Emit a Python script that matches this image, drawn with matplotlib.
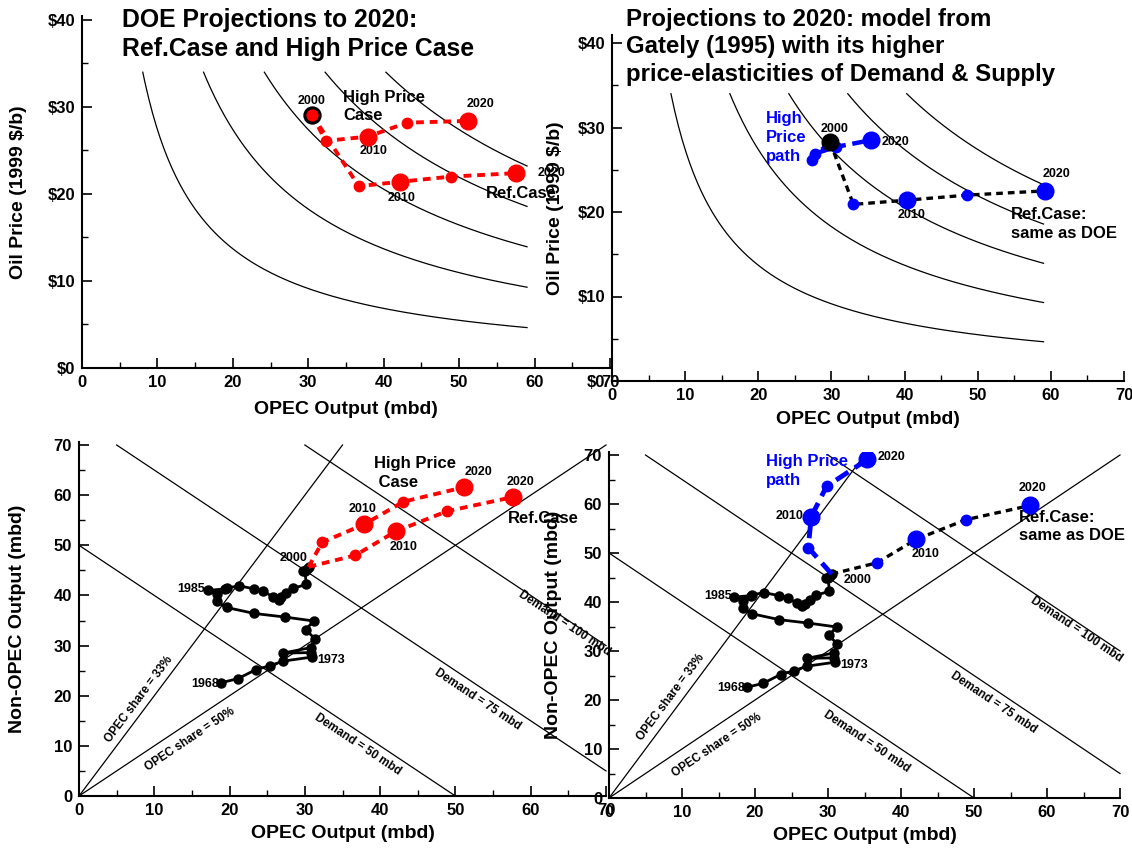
import matplotlib
matplotlib.use('Agg')
import matplotlib.pyplot as plt
import numpy as np

plt.rcParams['font.family'] = ['Liberation Sans', 'DejaVu Sans']
plt.rcParams['font.weight'] = 'bold'
plt.rcParams['axes.labelweight'] = 'bold'

# ---------------- data ----------------
hist_years = list(range(1968, 2001))
hist_opec = [18.9, 21.1, 23.5, 25.4, 27.1, 30.9, 30.8, 27.1, 30.8, 31.3,
             30.1, 31.2, 27.3, 23.3, 19.6, 18.3, 18.3, 17.1, 19.4, 19.6,
             21.3, 23.3, 24.5, 25.8, 26.5, 26.8, 27.5, 28.4, 30.2, 30.0,
             29.7, 30.3, 30.5]
hist_nonopec = [22.6, 23.4, 25.2, 26.0, 26.9, 27.7, 28.6, 28.5, 29.6, 31.4,
                33.2, 34.9, 35.7, 36.4, 37.6, 38.8, 40.3, 41.0, 41.3, 41.5,
                41.9, 41.3, 40.8, 39.7, 39.1, 39.6, 40.4, 41.4, 42.2, 44.8,
                44.9, 45.3, 45.7]

proj_years = [2000, 2005, 2010, 2015, 2020]
# DOE projections
doe_ref_opec = [30.5, 36.7, 42.1, 48.9, 57.6]
doe_ref_nonopec = [45.7, 48.0, 52.8, 56.8, 59.6]
doe_ref_price = [29.1, 20.9, 21.4, 22.0, 22.4]
doe_hp_opec = [30.5, 32.3, 37.9, 43.1, 51.2]
doe_hp_nonopec = [45.7, 50.6, 54.2, 58.7, 61.6]
doe_hp_price = [29.1, 26.1, 26.6, 28.2, 28.4]
# Gately (1995) model
gm_ref_opec_top = [29.8, 33.0, 40.3, 48.6, 59.2]
gm_ref_price = [28.3, 20.9, 21.4, 22.0, 22.5]
gm_hp_opec_top = [29.8, 27.3, 27.7, 30.6, 35.4]
gm_hp_price = [28.3, 26.2, 26.9, 27.7, 28.5]
gm_ref_opec = [30.5, 36.7, 42.1, 48.9, 57.7]
gm_ref_nonopec = [45.7, 48.0, 52.8, 56.8, 59.7]
gm_hp_opec = [30.5, 27.3, 27.7, 29.8, 35.4]
gm_hp_nonopec = [45.7, 51.1, 57.4, 63.6, 69.1]

revenue_levels = [100, 200, 300, 400, 500]   # $bn per year
demand_levels = [50, 75, 100]                # mbd
share_levels = [1/3, 1/2]
share_names = ['33%', '50%']

price_ticks = [0, 10, 20, 30, 40]
price_labels = ['$0', '$10', '$20', '$30', '$40']
qty_ticks = [0, 10, 20, 30, 40, 50, 60, 70]

# ---------------- layout ----------------
W, H = 1132, 850
fig = plt.figure(figsize=(W / 100, H / 100), dpi=100)
RED = '#ff0000'
BLUE = '#0000ff'


def make_ax(xpx0, xpx70, ypx0, ypxv, v, ytop):
    sx = (xpx70 - xpx0) / 70.0
    sy = (ypx0 - ypxv) / v
    left = xpx0 / W
    width = 70 * sx / W
    bottom = 1 - ypx0 / H
    height = ytop * sy / H
    ax = fig.add_axes([left, bottom, width, height])
    ax.set_facecolor('none')
    ax.set_xlim(0, 70)
    ax.set_ylim(0, ytop)
    for s in ['top', 'right']:
        ax.spines[s].set_visible(False)
    for s in ['left', 'bottom']:
        ax.spines[s].set_linewidth(1.5)
    ax.set_xticks(qty_ticks)
    ax.set_xticks(np.arange(5, 70, 10), minor=True)
    ax.tick_params(which='major', direction='in', length=7, width=1.2,
                   labelsize=12, pad=5)
    ax.tick_params(which='minor', direction='in', length=4.5, width=1.0)
    ax.set_xlabel('OPEC Output (mbd)', fontsize=14, fontweight='bold')
    return ax, width * W, height * H


def finish_labels(ax, wpx, hpx, xlab_off, ylab_x):
    ax.xaxis.set_label_coords(0.5, -xlab_off / hpx)
    ax.xaxis.label.set_va('center')
    ax.yaxis.set_label_coords(ylab_x / wpx, 0.5)
    ax.yaxis.label.set_va('center')
    for lab in ax.get_xticklabels() + ax.get_yticklabels():
        lab.set_fontweight('bold')


def price_panel(ax):
    ax.set_yticks(price_ticks)
    ax.set_yticklabels(price_labels)
    ax.set_yticks([5, 15, 25, 35], minor=True)
    ax.set_ylabel('Oil Price (1999 $/b)', fontsize=14, fontweight='bold')
    for r in revenue_levels:
        k = r * 1000 / 365.0
        q = np.linspace(k / 34.0, 59, 200)
        ax.plot(q, k / q, color='black', lw=0.9)


def qty_panel(ax):
    ax.set_yticks(qty_ticks)
    ax.set_yticks(np.arange(5, 70, 10), minor=True)
    ax.set_ylabel('Non-OPEC Output (mbd)', fontsize=14, fontweight='bold')
    for d in demand_levels:
        xs = np.array([max(0, d - 70), min(70, d)])
        ax.plot(xs, d - xs, color='black', lw=0.9, clip_on=False)
    for s in share_levels:
        m = (1 - s) / s
        xe = min(70, 70 / m)
        ax.plot([0, xe], [0, m * xe], color='black', lw=0.9, clip_on=False)
    ax.plot(hist_opec, hist_nonopec, '-o', color='black', lw=2, ms=6.5,
            zorder=5, clip_on=False)
    fs = 9
    ax.text(hist_opec[17] - 0.3, hist_nonopec[17] + 0.2, str(hist_years[17]),
            ha='right', va='center', fontsize=fs, fontweight='bold')
    ax.text(hist_opec[0] - 0.3, hist_nonopec[0] - 0.2, str(hist_years[0]),
            ha='right', va='center', fontsize=fs, fontweight='bold')
    ax.text(hist_opec[5] + 0.8, hist_nonopec[5] - 0.5, str(hist_years[5]),
            ha='left', va='center', fontsize=fs, fontweight='bold')


def add_rot_labels(ax, pos):
    fs = 8.5
    t = ax.transData

    def ang(dx, dy):
        p0 = t.transform((0, 0))
        p1 = t.transform((dx, dy))
        return np.degrees(np.arctan2(p1[1] - p0[1], p1[0] - p0[0]))
    a33 = ang(1, 2)
    a50 = ang(1, 1)
    ad = ang(1, -1)
    ax.text(*pos['s33'], 'OPEC share = ' + share_names[0], rotation=a33,
            ha='center', va='center', fontsize=fs, fontweight='bold',
            rotation_mode='anchor')
    ax.text(*pos['s50'], 'OPEC share = ' + share_names[1], rotation=a50,
            ha='center', va='center', fontsize=fs, fontweight='bold',
            rotation_mode='anchor')
    for d, p in zip(demand_levels, pos['dem']):
        ax.text(*p, 'Demand = %d mbd' % d, rotation=ad, ha='center',
                va='center', fontsize=fs, fontweight='bold',
                rotation_mode='anchor')


BIG, SMALL = 12, 7.5
DASH = (0, (2, 1.5))
fs = 9

# ---------------- Top-left ----------------
ax1, w1, h1 = make_ax(82, 610, 368, 20, 40, 40.5)
price_panel(ax1)
ax1.plot(doe_hp_opec, doe_hp_price, color=RED, lw=2.8, ls=DASH, zorder=4)
ax1.plot(doe_ref_opec, doe_ref_price, color=RED, lw=2.8, ls=DASH, zorder=4)
for xs, ys in [(doe_hp_opec, doe_hp_price), (doe_ref_opec, doe_ref_price)]:
    for i in range(1, 5):
        ax1.plot(xs[i], ys[i], 'o', color=RED, ms=BIG if i % 2 == 0 else SMALL,
                 zorder=5)
ax1.plot(doe_ref_opec[0], doe_ref_price[0], 'o', color=RED, mec='black',
         mew=2.2, ms=11, zorder=6)
ax1.text(30.4, 30.7, '2000', ha='center', va='center', fontsize=fs)
ax1.text(38.7, 25.0, '2010', ha='center', va='center', fontsize=fs)
ax1.text(42.4, 19.5, '2010', ha='center', va='center', fontsize=fs)
ax1.text(52.8, 30.3, '2020', ha='center', va='center', fontsize=fs)
ax1.text(62.2, 22.4, '2020', ha='center', va='center', fontsize=fs)
ax1.text(34.6, 32.0, 'High Price\nCase', ha='left', va='top', fontsize=12,
         linespacing=1.3)
ax1.text(53.5, 20.1, 'Ref.Case', ha='left', va='center', fontsize=12)
finish_labels(ax1, w1, h1, 42, -64)

# ---------------- Top-right ----------------
ax2, w2, h2 = make_ax(612, 1124, 381, 43, 40, 41)
price_panel(ax2)
ax2.plot(gm_ref_opec_top, gm_ref_price, color='black', lw=2.4, ls=DASH,
         zorder=4)
ax2.plot(gm_hp_opec_top, gm_hp_price, color=BLUE, lw=3.2, ls=(0, (2.5, 1.5)),
         zorder=4)
for i in range(1, 5):
    ax2.plot(gm_ref_opec_top[i], gm_ref_price[i], 'o', color=BLUE,
             ms=BIG if i % 2 == 0 else SMALL, zorder=5)
for i in range(1, 4):
    ax2.plot(gm_hp_opec_top[i], gm_hp_price[i], 'o', color=BLUE, ms=SMALL,
             zorder=5)
ax2.plot(gm_hp_opec_top[4], gm_hp_price[4], 'o', color=BLUE, ms=BIG, zorder=5)
ax2.plot(gm_ref_opec_top[0], gm_ref_price[0], 'o', color='black', ms=BIG,
         zorder=6)
ax2.text(30.4, 29.8, '2000', ha='center', va='center', fontsize=fs)
ax2.text(36.9, 28.3, '2020', ha='left', va='center', fontsize=fs)
ax2.text(41.0, 19.6, '2010', ha='center', va='center', fontsize=fs)
ax2.text(60.8, 24.5, '2020', ha='center', va='center', fontsize=fs)
ax2.text(54.5, 20.6, 'Ref.Case:\nsame as DOE', ha='left', va='top',
         fontsize=12, linespacing=1.3)
ax2.text(21.1, 31.9, 'High\nPrice\npath', ha='left', va='top', fontsize=12,
         color=BLUE, linespacing=1.3)
finish_labels(ax2, w2, h2, 39, -57)

# ---------------- Bottom-left ----------------
ax3, w3, h3 = make_ax(79, 606, 796, 445, 70, 70.6)
qty_panel(ax3)
ax3.plot(doe_hp_opec, doe_hp_nonopec, color=RED, lw=2.8, ls=DASH, zorder=6)
ax3.plot(doe_ref_opec, doe_ref_nonopec, color=RED, lw=2.8, ls=DASH, zorder=6)
for xs, ys in [(doe_hp_opec, doe_hp_nonopec), (doe_ref_opec, doe_ref_nonopec)]:
    for i in range(1, 5):
        ax3.plot(xs[i], ys[i], 'o', color=RED, ms=BIG if i % 2 == 0 else SMALL,
                 zorder=7)
ax3.text(28.5, 47.5, '2000', ha='center', va='center', fontsize=fs)
ax3.text(37.6, 57.2, '2010', ha='center', va='center', fontsize=fs)
ax3.text(43.1, 49.6, '2010', ha='center', va='center', fontsize=fs)
ax3.text(53.0, 64.7, '2020', ha='center', va='center', fontsize=fs)
ax3.text(58.6, 62.7, '2020', ha='center', va='center', fontsize=fs)
ax3.text(39.2, 67.8, 'High Price\n Case', ha='left', va='top', fontsize=12,
         linespacing=1.3)
ax3.text(57.0, 55.3, 'Ref.Case', ha='left', va='center', fontsize=12)
add_rot_labels(ax3, {'s33': (8.0, 19.3), 's50': (14.8, 11.2),
                     'dem': [(37.0, 10.3), (53.0, 19.3), (64.5, 34.5)]})
finish_labels(ax3, w3, h3, 37, -61)

# ---------------- Bottom-right ----------------
ax4, w4, h4 = make_ax(609, 1120, 798, 455, 70, 70.6)
qty_panel(ax4)
ax4.plot(gm_ref_opec, gm_ref_nonopec, color='black', lw=2.4, ls=DASH, zorder=6)
ax4.plot(gm_hp_opec, gm_hp_nonopec, color=BLUE, lw=3.5, ls=(0, (3, 1.6)),
         zorder=6)
for i in range(1, 5):
    ax4.plot(gm_ref_opec[i], gm_ref_nonopec[i], 'o', color=BLUE,
             ms=BIG if i % 2 == 0 else SMALL, zorder=7)
    ax4.plot(gm_hp_opec[i], gm_hp_nonopec[i], 'o', color=BLUE,
             ms=BIG if i % 2 == 0 else SMALL, zorder=7)
ax4.text(32.2, 44.5, '2000', ha='left', va='center', fontsize=fs)
ax4.text(26.6, 57.5, '2010', ha='right', va='center', fontsize=fs)
ax4.text(43.4, 49.7, '2010', ha='center', va='center', fontsize=fs)
ax4.text(36.8, 69.5, '2020', ha='left', va='center', fontsize=fs)
ax4.text(58.0, 63.3, '2020', ha='center', va='center', fontsize=fs)
ax4.text(21.5, 70.2, 'High Price\npath', ha='left', va='top', fontsize=12,
         color=BLUE, linespacing=1.3)
ax4.text(56.2, 58.8, 'Ref.Case:\nsame as DOE', ha='left', va='top',
         fontsize=12, linespacing=1.3)
add_rot_labels(ax4, {'s33': (8.5, 20.5), 's50': (14.8, 10.8),
                     'dem': [(35.3, 11.5), (52.7, 19.4), (64.0, 34.3)]})
finish_labels(ax4, w4, h4, 37, -56)

# ---------------- titles ----------------
fig.text(122 / W, 1 - 8 / H, 'DOE Projections to 2020:\nRef.Case and High Price Case',
         ha='left', va='top', fontsize=17.8, fontweight='bold', linespacing=1.25)
fig.text(626 / W, 1 - 8 / H,
         'Projections to 2020: model from\nGately (1995) with its higher\n'
         'price-elasticities of Demand & Supply',
         ha='left', va='top', fontsize=17.3, fontweight='bold', linespacing=1.25)

fig.savefig('out.png', dpi=100)
